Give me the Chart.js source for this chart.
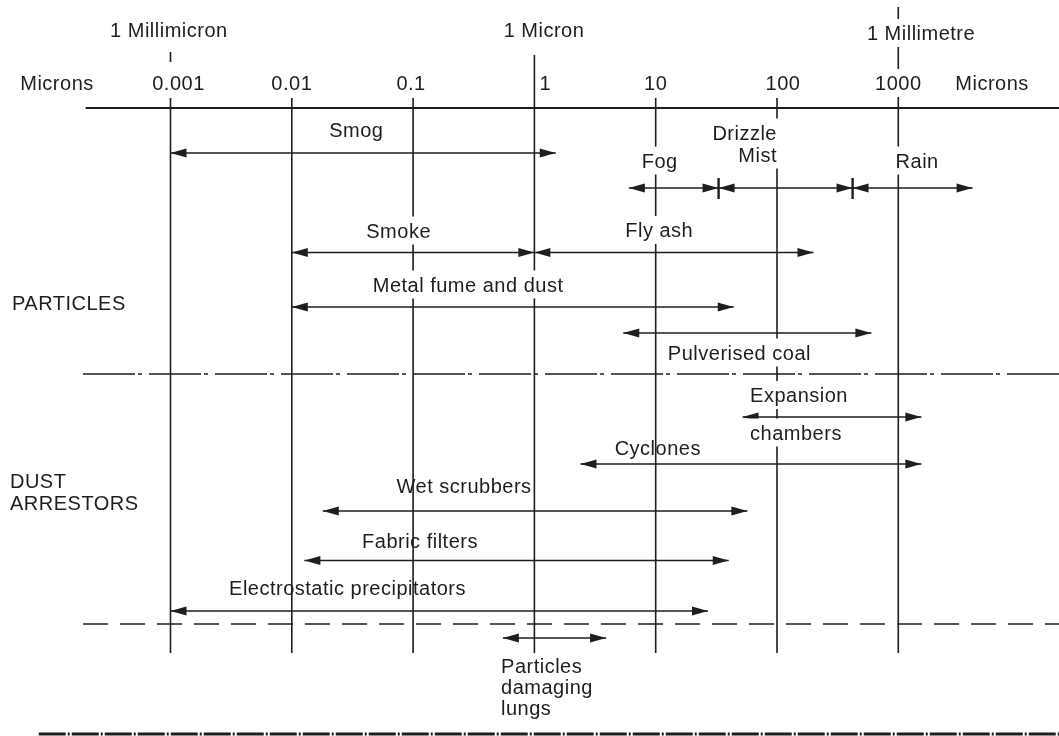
<!DOCTYPE html>
<html lang="en">
<head>
<meta charset="UTF-8">
<title>Particle sizes and dust arrestors</title>
<script src="https://cdn.jsdelivr.net/npm/chart.js"></script>
<style>
  html, body { margin: 0; padding: 0; background: #fff; }
  #wrap { width: 1059px; height: 736px; }
</style>
</head>
<body>
<div id="wrap"><canvas id="sizeChart"></canvas></div>
<script>
// ---- data (sizes in microns) ----
const decades = [0.001, 0.01, 0.1, 1, 10, 100, 1000];
const decadeLabels = ['0.001', '0.01', '0.1', '1', '10', '100', '1000'];

const unitNames = ['1 Millimicron', '1 Micron', '1 Millimetre'];
const unitValues = [0.001, 1, 1000];

const particles = ['Smog', 'Smoke', 'Fly ash', 'Metal fume and dust', 'Pulverised coal'];
const particleLow = [0.001, 0.01, 1, 0.01, 5.4];
const particleHigh = [1.5, 1, 200, 44, 600];

// fog, drizzle/mist and rain meet end to end
const weather = [['Fog'], ['Drizzle', 'Mist'], ['Rain']];
const weatherLow = [6, 33, 420];
const weatherHigh = [33, 420, 4100];

const arrestors = [['Expansion', 'chambers'], ['Cyclones'], ['Wet scrubbers'], ['Fabric filters'], ['Electrostatic precipitators']];
const arrestorLow = [52, 2.4, 0.018, 0.0127, 0.001];
const arrestorHigh = [1550, 1550, 57, 40, 27];

const lungText = ['Particles', 'damaging', 'lungs'];
const lungLow = 0.55;
const lungHigh = 3.9;

// ---- layout ----
const xMin = 3.93e-5, xMax = 2.113e4;
const FONT = '20px "Liberation Sans", Arial, Helvetica, sans-serif';
const INK = '#1e1e1e';

const axisRow = 108, lineBottom = 653;
const decadeTop = [98, 98, 98, 55, 98, 98, 7];
const decadeLabelRow = 83;
const decadeLabelShift = [8, 0, -2, 11, 0, 6, 0];
const unitLabelAt = [0.00097, 1.2, 1540];
const unitLabelRow = [30, 30, 33];

const particleRow = [153, 252.5, 252.5, 307, 333];
const particleTextAt = [0.034, 0.076, 10.7, 0.284, 49];
const particleTextRow = [130, 230.5, 230, 284.5, 352.5];

const weatherRow = 188;
const weatherTextAt = [10.8, 100, 1430];
const weatherTextAlign = ['center', 'right', 'center'];
const weatherTextRow = [160.5, 132.5, 160.5];

const arrestorRow = [417, 464, 511, 560.5, 611];
const arrestorTextAt = [60, 10.4, 0.263, 0.114, 0.0288];
const arrestorTextAlign = ['left', 'center', 'center', 'center', 'center'];
const arrestorTextRow = [395, 447.5, 485.5, 540.5, 588];
const arrestorTextGap = [37.5, 0, 0, 0, 0];
const arrestorMask = [true, false, false, false, false];

const lungRow = 638;
const lungTextAt = 0.531;
const lungTextRow = 665.5;

// ---- datasets ----
function seg(x0, y0, x1, y1, extra) {
  return Object.assign({
    data: [{x: x0, y: y0}, {x: x1, y: y1}],
    borderColor: INK, borderWidth: 1.6, pointRadius: 0, fill: false
  }, extra || {});
}

const datasets = [];
decades.forEach((d, i) => datasets.push(seg(d, decadeTop[i], d, lineBottom)));
datasets.push(seg(0.001, 52, 0.001, 62));

// axis and section rules
datasets.push(seg(0.0002, axisRow, xMax, axisRow, {borderWidth: 1.8}));
datasets.push(seg(0.00019, 374, xMax, 374, {borderDash: [52, 3, 4, 7]}));
datasets.push(seg(0.00019, 624, xMax, 624, {borderDash: [25, 12]}));
datasets.push(seg(8.2e-5, 734, xMax, 734, {borderWidth: 3, borderDash: [27, 2, 2, 2]}));

particles.forEach((p, i) =>
  datasets.push(seg(particleLow[i], particleRow[i], particleHigh[i], particleRow[i], {arrows: true})));
weather.forEach((w, i) =>
  datasets.push(seg(weatherLow[i], weatherRow, weatherHigh[i], weatherRow, {arrows: true})));
// boundary marks between fog / drizzle / rain
[weatherHigh[0], weatherHigh[1]].forEach(b =>
  datasets.push(seg(b, weatherRow - 10, b, weatherRow + 11, {borderWidth: 2.4})));
arrestors.forEach((a, i) =>
  datasets.push(seg(arrestorLow[i], arrestorRow[i], arrestorHigh[i], arrestorRow[i], {arrows: true})));
datasets.push(seg(lungLow, lungRow, lungHigh, lungRow, {arrows: true}));

// ---- text ----
const labels = [];
function addLabel(text, x, y, align, mask, dx) {
  labels.push({text, x, y, align: align || 'center', mask: !!mask, dx: dx || 0});
}
unitNames.forEach((u, i) => addLabel(u, unitLabelAt[i], unitLabelRow[i], 'center', i === 2));
addLabel('Microns', 1.16e-4, decadeLabelRow);
addLabel('Microns', 5930, decadeLabelRow);
decadeLabels.forEach((t, i) => addLabel(t, decades[i], decadeLabelRow, 'center', i === 6, decadeLabelShift[i]));
particles.forEach((p, i) => addLabel(p, particleTextAt[i], particleTextRow[i], 'center', true));
weather.forEach((lines, i) => lines.forEach((t, k) =>
  addLabel(t, weatherTextAt[i], weatherTextRow[i] + k * 22, weatherTextAlign[i], true)));
arrestors.forEach((lines, i) => lines.forEach((t, k) =>
  addLabel(t, arrestorTextAt[i], arrestorTextRow[i] + k * arrestorTextGap[i], arrestorTextAlign[i], arrestorMask[i])));
lungText.forEach((t, k) => addLabel(t, lungTextAt, lungTextRow + k * 21, 'left'));
addLabel('PARTICLES', 4.93e-5, 302.5, 'left');
addLabel('DUST', 4.75e-5, 480.5, 'left');
addLabel('ARRESTORS', 4.75e-5, 502.5, 'left');

// ---- plugins ----
function head(ctx, x, y, dir) {
  ctx.beginPath();
  ctx.moveTo(x, y);
  ctx.lineTo(x - dir * 16, y - 4.5);
  ctx.lineTo(x - dir * 16, y + 4.5);
  ctx.closePath();
  ctx.fill();
}

const arrowPlugin = {
  id: 'arrowheads',
  afterDatasetsDraw(chart) {
    const ctx = chart.ctx;
    ctx.save();
    ctx.fillStyle = INK;
    chart.data.datasets.forEach((ds, i) => {
      if (!ds.arrows) return;
      const pts = chart.getDatasetMeta(i).data;
      head(ctx, pts[0].x, pts[0].y, -1);
      head(ctx, pts[pts.length - 1].x, pts[pts.length - 1].y, 1);
    });
    ctx.restore();
  }
};

const labelPlugin = {
  id: 'labels',
  afterDatasetsDraw(chart) {
    const {ctx, scales: {x, y}} = chart;
    ctx.save();
    ctx.font = FONT;
    ctx.letterSpacing = '0.5px';
    ctx.textAlign = 'left';
    ctx.textBaseline = 'alphabetic';
    const boxes = labels.map(l => {
      const px = x.getPixelForValue(l.x) + l.dx;
      const w = ctx.measureText(l.text).width;
      const left = l.align === 'left' ? px : l.align === 'right' ? px - w : px - w / 2;
      return {l, left, w, py: y.getPixelForValue(l.y)};
    });
    // white boxes break the grid lines behind the text
    ctx.fillStyle = '#fff';
    boxes.forEach(b => { if (b.l.mask) ctx.fillRect(b.left - 5, b.py - 14, b.w + 10, 28); });
    ctx.fillStyle = INK;
    boxes.forEach(b => ctx.fillText(b.l.text, b.left, b.py + 7.2));
    ctx.restore();
  }
};

new Chart(document.getElementById('sizeChart'), {
  type: 'line',
  data: { datasets },
  options: {
    responsive: true,
    maintainAspectRatio: false,
    animation: false,
    events: [],
    layout: { padding: 0 },
    plugins: { legend: { display: false }, tooltip: { enabled: false } },
    scales: {
      x: { type: 'logarithmic', min: xMin, max: xMax, bounds: 'data', display: false },
      y: { type: 'linear', min: 0, max: 736, reverse: true, display: false }
    }
  },
  plugins: [arrowPlugin, labelPlugin]
});
</script>
</body>
</html>
